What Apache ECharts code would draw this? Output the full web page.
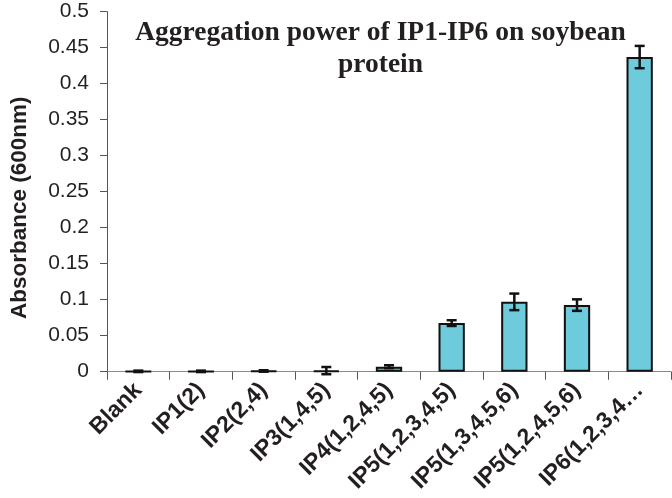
<!DOCTYPE html>
<html>
<head>
<meta charset="utf-8">
<script src="https://cdn.jsdelivr.net/npm/echarts@6/dist/echarts.min.js"></script>
<style>html,body{margin:0;padding:0;background:#fff;}#chart{width:672px;height:498px;}</style>
</head>
<body>
<div id="chart"></div>
<script>
const categories = ['Blank','IP1(2)','IP2(2,4)','IP3(1,4,5)','IP4(1,2,4,5)','IP5(1,2,3,4,5)','IP5(1,3,4,5,6)','IP5(1,2,4,5,6)','IP6(1,2,3,4\u2026'];
const values = [0.0005, 0.0005, 0.001, 0.0015, 0.007, 0.0675, 0.097, 0.0925, 0.437];
const errors = [0.001, 0.001, 0.001, 0.005, 0.002, 0.004, 0.0115, 0.008, 0.0155];
const yTicks = { min: 0, max: 0.5, interval: 0.05 };
const titleText = 'Aggregation power of IP1-IP6 on soybean\nprotein';
const yName = 'Absorbance (600nm)';

const chart = echarts.init(document.getElementById('chart'), null, {renderer: 'canvas'});
const errData = categories.map((c, i) => [i, values[i], errors[i]]);
chart.setOption({
  animation: false,
  backgroundColor: '#fff',
  title: {
    text: titleText,
    left: 375.5,
    top: 12,
    textAlign: 'center',
    textStyle: { fontFamily: 'Liberation Serif', fontWeight: 'bold', fontSize: 27.5, lineHeight: 32, color: '#231f20' }
  },
  grid: { left: 91, right: 1, top: 11.7, bottom: 126.3, containLabel: false },
  xAxis: {
    type: 'category',
    data: categories,
    axisLine: { lineStyle: { color: '#8a8a8a', width: 1 } },
    axisTick: { show: true, length: 8, lineStyle: { color: '#555' } },
    axisLabel: { rotate: 45, interval: 0, margin: 15, fontFamily: 'Liberation Sans', fontWeight: 'bold', fontSize: 23, color: '#231f20' }
  },
  yAxis: {
    type: 'value',
    min: yTicks.min, max: yTicks.max, interval: yTicks.interval,
    name: yName,
    nameLocation: 'middle',
    nameRotate: 90,
    nameGap: 76,
    nameTextStyle: { fontFamily: 'Liberation Sans', fontWeight: 'bold', fontSize: 22.5, color: '#231f20', padding: [0, 32, 0, 0] },
    axisLine: { show: true, lineStyle: { color: '#555', width: 1 } },
    axisTick: { show: true, length: 7, lineStyle: { color: '#555' } },
    axisLabel: { margin: 18, fontFamily: 'Liberation Sans', fontSize: 21, color: '#231f20' },
    splitLine: { show: false }
  },
  series: [
    {
      type: 'bar',
      data: values,
      barWidth: '42%',
      itemStyle: { color: '#6dcbdc', borderColor: '#111', borderWidth: 2 }
    },
    {
      type: 'custom',
      data: errData,
      z: 10,
      renderItem: function (params, api) {
        const x = api.value(0);
        const v = api.value(1);
        const e = api.value(2);
        const hi = api.coord([x, v + e]);
        const lo = api.coord([x, v - e]);
        const cw = 5;
        const st = { stroke: '#111', lineWidth: 2.5 };
        return {
          type: 'group',
          children: [
            { type: 'line', shape: { x1: hi[0], y1: hi[1], x2: lo[0], y2: lo[1] }, style: st },
            { type: 'line', shape: { x1: hi[0] - cw, y1: hi[1], x2: hi[0] + cw, y2: hi[1] }, style: st },
            { type: 'line', shape: { x1: lo[0] - cw, y1: lo[1], x2: lo[0] + cw, y2: lo[1] }, style: st }
          ]
        };
      }
    }
  ]
});
</script>
</body>
</html>
